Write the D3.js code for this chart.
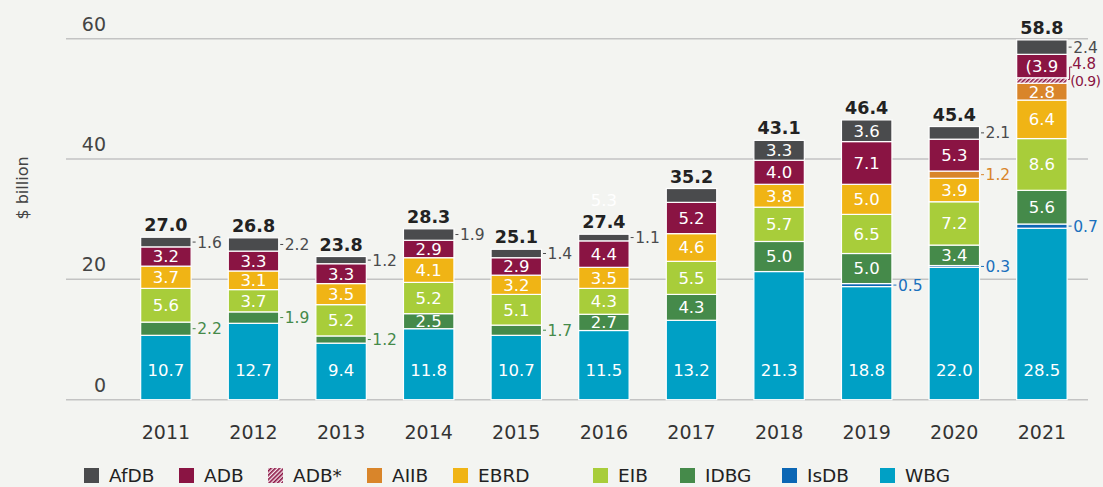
<!DOCTYPE html>
<html>
<head>
<meta charset="utf-8">
<script src="https://cdn.jsdelivr.net/npm/d3@7"></script>
<style>
  html, body { margin: 0; padding: 0; background: #f3f4f1; }
  svg { display: block; font-family: "DejaVu Sans", sans-serif; }
</style>
</head>
<body>
<div id="chart"></div>
<script>
// ── Data ──────────────────────────────────────────────────────────────────────
const years   = [2011, 2012, 2013, 2014, 2015, 2016, 2017, 2018, 2019, 2020, 2021];
const WBG     = [10.7, 12.7, 9.4, 11.8, 10.7, 11.5, 13.2, 21.3, 18.8, 22.0, 28.5];
const IsDB    = [0, 0, 0, 0, 0, 0, 0, 0, 0.5, 0.3, 0.7];
const IDBG    = [2.2, 1.9, 1.2, 2.5, 1.7, 2.7, 4.3, 5.0, 5.0, 3.4, 5.6];
const EIB     = [5.6, 3.7, 5.2, 5.2, 5.1, 4.3, 5.5, 5.7, 6.5, 7.2, 8.6];
const EBRD    = [3.7, 3.1, 3.5, 4.1, 3.2, 3.5, 4.6, 3.8, 5.0, 3.9, 6.4];
const AIIB    = [0, 0, 0, 0, 0, 0, 0, 0, 0, 1.2, 2.8];
const ADBstar = [0, 0, 0, 0, 0, 0, 0, 0, 0, 0, 0.9];
const ADB     = [3.2, 3.3, 3.3, 2.9, 2.9, 4.4, 5.2, 4.0, 7.1, 5.3, 3.9];
const AfDB    = [1.6, 2.2, 1.2, 1.9, 1.4, 1.1, 2.3, 3.3, 3.6, 2.1, 2.4];
const totals  = [27.0, 26.8, 23.8, 28.3, 25.1, 27.4, 35.2, 43.1, 46.4, 45.4, 58.8];

// stacking order, bottom to top
const keys = ['WBG', 'IsDB', 'IDBG', 'EIB', 'EBRD', 'AIIB', 'ADB*', 'ADB', 'AfDB'];
const seriesData = { WBG, IsDB, IDBG, EIB, EBRD, AIIB, 'ADB*': ADBstar, ADB, AfDB };
const legendKeys = ['AfDB', 'ADB', 'ADB*', 'AIIB', 'EBRD', 'EIB', 'IDBG', 'IsDB', 'WBG'];
const yTicks = [0, 20, 40, 60];

// label tweaks
const hiddenLabels = new Set(['AfDB-2017', 'ADB*-2021']);
const textOverride = { 'ADB-2021': '(3.9' };

const colors = {
  AfDB: '#4a4b4d', ADB: '#8a1443', 'ADB*': '#8a1443', AIIB: '#d9852a',
  EBRD: '#f0b415', EIB: '#a8cd3a', IDBG: '#458a4a', IsDB: '#0b66b4', WBG: '#00a0c5'
};
const outColors = {
  AfDB: '#4a4b4d', ADB: '#8a1443', AIIB: '#d9852a', IDBG: '#458a4a', IsDB: '#1a70bd'
};

// ── Layout ────────────────────────────────────────────────────────────────────
const W = 1103, H = 487;
const svg = d3.select('#chart').append('svg').attr('width', W).attr('height', H);
svg.append('rect').attr('width', W).attr('height', H).attr('fill', '#f3f4f1');

const defs = svg.append('defs');
const pat = defs.append('pattern')
  .attr('id', 'hatch').attr('patternUnits', 'userSpaceOnUse')
  .attr('width', 3).attr('height', 3)
  .attr('patternTransform', 'rotate(45)');
pat.append('rect').attr('width', 3).attr('height', 3).attr('fill', '#f6e6ec');
pat.append('rect').attr('width', 1.6).attr('height', 3).attr('fill', '#8a1443');

const fillFor = k => k === 'ADB*' ? 'url(#hatch)' : colors[k];

const x = d3.scaleBand().domain(years).range([122.1, 1085.7])
  .paddingInner(0.424).paddingOuter(0.212);
const y = d3.scaleLinear().domain([0, 60]).range([399.7, 38.7]);

// gridlines + tick labels
const grid = svg.append('g');
grid.selectAll('line').data(yTicks).join('line')
  .attr('x1', 66).attr('x2', 1088)
  .attr('y1', d => y(d)).attr('y2', d => y(d))
  .attr('stroke', '#c3c3c3').attr('stroke-width', 1.5);
grid.selectAll('text').data(yTicks).join('text')
  .attr('x', 106).attr('y', d => y(d) - 8)
  .attr('text-anchor', 'end').attr('fill', '#444').attr('font-size', 19)
  .text(d => d);

svg.append('text')
  .attr('transform', 'translate(28,188) rotate(-90)')
  .attr('text-anchor', 'middle').attr('fill', '#444').attr('font-size', 16)
  .text('$ billion');

// stacked bars
const rows = years.map((yr, i) => {
  const r = { year: yr };
  keys.forEach(k => { r[k] = seriesData[k][i]; });
  return r;
});
const stacked = d3.stack().keys(keys)(rows);

const bars = svg.append('g');
stacked.forEach(s => {
  bars.append('g').selectAll('rect')
    .data(s.filter(d => d[1] - d[0] > 0))
    .join('rect')
    .attr('x', d => x(d.data.year))
    .attr('width', x.bandwidth())
    .attr('y', d => y(d[1]))
    .attr('height', d => y(d[0]) - y(d[1]))
    .attr('fill', fillFor(s.key))
    .attr('stroke', '#fff').attr('stroke-width', 1.2);
});

// segment labels
const labels = svg.append('g').attr('font-size', 16.5);
stacked.forEach(s => {
  s.forEach(d => {
    const v = d[1] - d[0];
    const id = `${s.key}-${d.data.year}`;
    if (v <= 0 || hiddenLabels.has(id)) return;
    const x0 = x(d.data.year), bw = x.bandwidth();
    const yc = (y(d[0]) + y(d[1])) / 2;
    const txt = textOverride[id] || d3.format('.1f')(v);
    if (v >= 2.5) {
      labels.append('text')
        .attr('x', x0 + bw / 2)
        .attr('y', s.key === 'WBG' ? y(0) - 30 : yc)
        .attr('dy', '0.36em')
        .attr('text-anchor', 'middle').attr('fill', '#fff')
        .text(txt);
    } else {
      const c = outColors[s.key];
      labels.append('line')
        .attr('x1', x0 + bw + 1.5).attr('x2', x0 + bw + 4.5)
        .attr('y1', yc).attr('y2', yc)
        .attr('stroke', c).attr('stroke-width', 1);
      labels.append('text')
        .attr('x', x0 + bw + 6).attr('y', yc).attr('dy', '0.36em')
        .attr('fill', c).attr('font-size', 15.5)
        .text(txt);
    }
  });
});

// 2021 ADB + ADB* note
{
  const i = years.indexOf(2021);
  const adb = stacked[keys.indexOf('ADB')][i];
  const star = stacked[keys.indexOf('ADB*')][i];
  const bx = x(2021) + x.bandwidth();
  const yA = (y(adb[0]) + y(adb[1])) / 2 - 2;
  const yS = (y(star[0]) + y(star[1])) / 2 - 1;
  labels.append('path')
    .attr('d', `M${bx + 1},${yS} H${bx + 2.5} V${yA + 3} H${bx + 5}`)
    .attr('fill', 'none').attr('stroke', '#8a1443').attr('stroke-width', 1);
  labels.append('text').attr('x', bx + 5).attr('y', yA).attr('dy', '0.36em')
    .attr('fill', '#8a1443').attr('font-size', 15).text('4.8');
  labels.append('text').attr('x', bx + 3).attr('y', yS + 1).attr('dy', '0.36em')
    .attr('fill', '#8a1443').attr('font-size', 14).attr('letter-spacing', -0.6)
    .text(`(${d3.format('.1f')(ADBstar[i])})`);
}

// stray white label above 2016
svg.append('text')
  .attr('x', x(2016) + x.bandwidth() / 2).attr('y', 200).attr('dy', '0.36em')
  .attr('text-anchor', 'middle').attr('fill', '#fff').attr('font-size', 16.5)
  .text('5.3');

// totals
svg.append('g').selectAll('text').data(years).join('text')
  .attr('x', d => x(d) + x.bandwidth() / 2)
  .attr('y', (d, i) => y(d3.sum(keys, k => seriesData[k][i])) - 6)
  .attr('text-anchor', 'middle').attr('fill', '#222')
  .attr('font-size', 17.5).attr('font-weight', 700)
  .text((d, i) => d3.format('.1f')(totals[i]));

// x axis years
svg.append('g').selectAll('text').data(years).join('text')
  .attr('x', d => x(d) + x.bandwidth() / 2).attr('y', 439)
  .attr('text-anchor', 'middle').attr('fill', '#333').attr('font-size', 19)
  .text(d => d);

// legend
const legendX = [84, 179, 268, 367, 453, 593, 680, 782, 880];
const lg = svg.append('g');
legendKeys.forEach((k, i) => {
  lg.append('rect').attr('x', legendX[i]).attr('y', 468)
    .attr('width', 15).attr('height', 15).attr('fill', fillFor(k));
  lg.append('text').attr('x', legendX[i] + 25).attr('y', 482)
    .attr('fill', '#222').attr('font-size', 18.5).text(k);
});
</script>
</body>
</html>
